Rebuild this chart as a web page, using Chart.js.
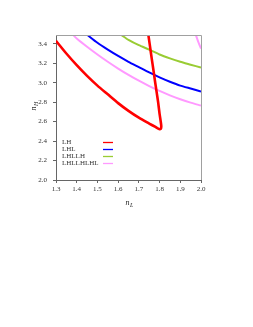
<!DOCTYPE html>
<html>
<head>
<meta charset="utf-8">
<script src="https://cdn.jsdelivr.net/npm/chart.js@4"></script>
<style>
  html, body { margin: 0; padding: 0; background: #fff; }
  #wrap { width: 253px; height: 327px; }
</style>
</head>
<body>
<div id="wrap"><canvas id="chart"></canvas></div>
<script>
// series labels
const seriesNames = ['LH', 'LHL', 'LHLLH', 'LHLLHLHL'];
const seriesColors = ['#ff0000', '#0000ff', '#99cc33', '#ff99ff'];

// LH: lower branch then turn back up
const lhX = [1.30, 1.35, 1.40, 1.45, 1.50, 1.55, 1.60, 1.65, 1.70, 1.75, 1.78, 1.798, 1.806, 1.808, 1.800, 1.793, 1.786, 1.779, 1.771, 1.762, 1.754, 1.746];
const lhY = [3.43, 3.30, 3.18, 3.07, 2.97, 2.88, 2.79, 2.71, 2.64, 2.58, 2.545, 2.523, 2.525, 2.56, 2.68, 2.80, 2.90, 3.00, 3.12, 3.25, 3.37, 3.49];

const lhlX = [1.452, 1.50, 1.55, 1.60, 1.65, 1.70, 1.75, 1.80, 1.85, 1.90, 1.95, 2.00];
const lhlY = [3.49, 3.41, 3.34, 3.275, 3.215, 3.16, 3.105, 3.055, 3.01, 2.97, 2.94, 2.91];

const lhllhX = [1.615, 1.65, 1.70, 1.75, 1.80, 1.85, 1.90, 1.95, 2.00];
const lhllhY = [3.49, 3.44, 3.385, 3.34, 3.29, 3.25, 3.215, 3.185, 3.155];

const lhllhlhlX = [1.383, 1.40, 1.45, 1.50, 1.55, 1.60, 1.65, 1.70, 1.75, 1.80, 1.85, 1.90, 1.95, 2.00];
const lhllhlhlY = [3.49, 3.455, 3.37, 3.29, 3.215, 3.145, 3.08, 3.02, 2.965, 2.915, 2.87, 2.83, 2.795, 2.765];
// second pink branch top right corner
const lhllhlhl2X = [1.975, 1.985, 2.00];
const lhllhlhl2Y = [3.49, 3.43, 3.35];

const xTicks = [1.3, 1.4, 1.5, 1.6, 1.7, 1.8, 1.9, 2.0];
const yTicks = [2.0, 2.2, 2.4, 2.6, 2.8, 3.0, 3.2, 3.4];

const toPts = (xs, ys) => xs.map((x, i) => ({ x: x, y: ys[i] }));

const serif = '"Liberation Serif", "DejaVu Serif", serif';

const makeSet = (label, color, pts, width, inLegend) => ({
  label: label,
  data: pts,
  borderColor: color,
  backgroundColor: color,
  borderWidth: width,
  showLine: true,
  pointRadius: 0,
  tension: 0.2,
  fill: false,
  inLegend: inLegend
});

// frame, axis titles with subscripts and legend box inside the plot
const decorations = {
  id: 'decorations',
  afterDraw(chart) {
    const ctx = chart.ctx;
    const a = chart.chartArea;
    ctx.save();
    ctx.strokeStyle = '#a0a0a0';
    ctx.lineWidth = 1;
    ctx.beginPath();
    ctx.moveTo(a.left, a.top + 0.5);
    ctx.lineTo(a.right + 0.5, a.top + 0.5);
    ctx.lineTo(a.right + 0.5, a.bottom);
    ctx.stroke();

    // x title
    ctx.fillStyle = '#222';
    ctx.textBaseline = 'alphabetic';
    ctx.font = 'italic 8px ' + serif;
    const cx = (a.left + a.right) / 2 - 3;
    ctx.fillText('n', cx, 205);
    ctx.font = 'italic 6px ' + serif;
    ctx.fillText('L', cx + 4.5, 207);

    // y title
    ctx.save();
    ctx.translate(36, (a.top + a.bottom) / 2 + 3);
    ctx.rotate(-Math.PI / 2);
    ctx.font = 'italic 8px ' + serif;
    ctx.fillText('n', 0, 0);
    ctx.font = 'italic 6px ' + serif;
    ctx.fillText('H', 4.5, 2);
    ctx.restore();

    // legend
    ctx.font = '7px ' + serif;
    ctx.textBaseline = 'middle';
    let row = 0;
    chart.data.datasets.forEach(ds => {
      if (!ds.inLegend) return;
      const y = Math.round(141.5 + row * 7.3) + 0.5;
      ctx.fillStyle = '#333';
      ctx.fillText(ds.label, 62, y);
      ctx.strokeStyle = ds.borderColor;
      ctx.lineWidth = 1.3;
      ctx.beginPath();
      ctx.moveTo(103, y);
      ctx.lineTo(113, y);
      ctx.stroke();
      row++;
    });
    ctx.restore();
  }
};

new Chart(document.getElementById('chart'), {
  type: 'scatter',
  data: {
    datasets: [
      makeSet(seriesNames[0], seriesColors[0], toPts(lhX, lhY), 2.6, true),
      makeSet(seriesNames[1], seriesColors[1], toPts(lhlX, lhlY), 2, true),
      makeSet(seriesNames[2], seriesColors[2], toPts(lhllhX, lhllhY), 2, true),
      makeSet(seriesNames[3], seriesColors[3], toPts(lhllhlhlX, lhllhlhlY), 2, true),
      makeSet(seriesNames[3] + ' (2)', seriesColors[3], toPts(lhllhlhl2X, lhllhlhl2Y), 2, false)
    ]
  },
  options: {
    responsive: true,
    maintainAspectRatio: false,
    animation: false,
    layout: { padding: { left: 0, top: 35, right: 52, bottom: 117 } },
    plugins: { legend: { display: false }, tooltip: { enabled: false } },
    scales: {
      x: {
        type: 'linear',
        min: 1.3,
        max: 2.0,
        afterBuildTicks: s => { s.ticks = xTicks.map(v => ({ value: v })); },
        afterFit: s => { s.height = 30; },
        grid: { drawOnChartArea: false, tickLength: 3, color: '#666' },
        border: { color: '#666' },
        ticks: {
          color: '#333',
          font: { family: serif, size: 7 },
          padding: 2,
          maxRotation: 0,
          callback: v => Number(v).toFixed(1)
        }
      },
      y: {
        type: 'linear',
        min: 2.0,
        max: 3.49,
        afterBuildTicks: s => { s.ticks = yTicks.map(v => ({ value: v })); },
        afterFit: s => { s.width = 56; },
        grid: { drawOnChartArea: false, tickLength: 3, color: '#666' },
        border: { color: '#666' },
        ticks: {
          color: '#333',
          font: { family: serif, size: 7 },
          padding: 6,
          callback: v => Number(v).toFixed(1)
        }
      }
    }
  },
  plugins: [decorations]
});
</script>
</body>
</html>
